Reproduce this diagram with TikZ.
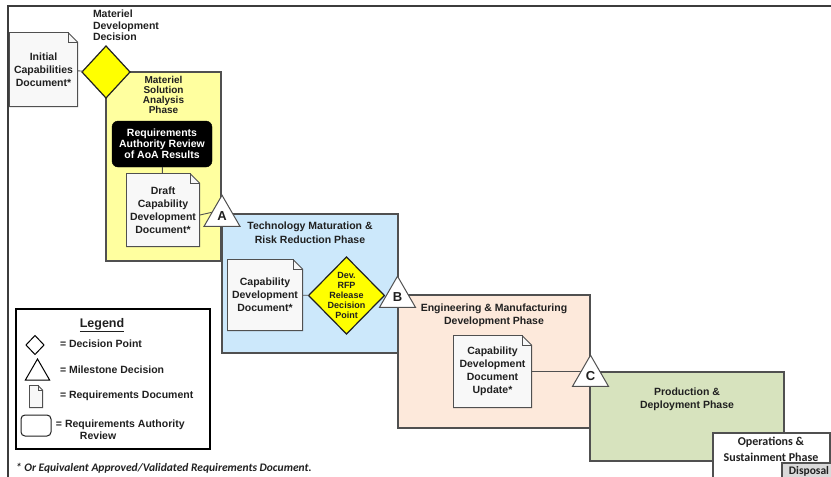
\documentclass[tikz,border=0pt]{standalone}
\usepackage{fontspec}
\setmainfont{Liberation Sans}
\newfontfamily\calfont{Carlito}
\usetikzlibrary{shapes.geometric,positioning}
\definecolor{msafill}{HTML}{FFFF9F}
\definecolor{tmrrfill}{HTML}{CCE8FB}
\definecolor{emdfill}{HTML}{FDE9DB}
\definecolor{pdfill}{HTML}{D7E3BE}
\definecolor{decfill}{HTML}{FFFF00}
\definecolor{edgegray}{HTML}{505050}
\definecolor{framegray}{HTML}{3C3C3C}
\definecolor{txtgray}{HTML}{202020}
\definecolor{docfill}{HTML}{F8F8F8}
\definecolor{dispfill}{HTML}{D9D9D9}

\begin{document}
\begin{tikzpicture}[x=1pt, y=-1pt,
	every node/.style={inner sep=0pt, outer sep=0pt, text=txtgray, font=\bfseries\fontsize{10.5}{13}\selectfont},
	phase/.style={draw=edgegray, line width=1.2pt, anchor=north west},
	title/.style={align=center},
	doc/.style={align=center, path picture={
		\path[fill=docfill, draw=edgegray, line width=0.9pt]
			([shift={(0.45pt,-0.45pt)}]path picture bounding box.north west)
			-- ([shift={(-#1,-0.45pt)}]path picture bounding box.north east)
			-- ([shift={(-0.45pt,-#1)}]path picture bounding box.north east)
			-- ([shift={(-0.45pt,0.45pt)}]path picture bounding box.south east)
			-- ([shift={(0.45pt,0.45pt)}]path picture bounding box.south west) -- cycle;
		\path[draw=edgegray, line width=0.9pt]
			([xshift=-#1]path picture bounding box.north east)
			-- ([shift={(-#1,-#1)}]path picture bounding box.north east)
			-- ([yshift=-#1]path picture bounding box.north east);}},
	doc/.default=10pt,
	decision/.style={diamond, draw=txtgray, line width=1.2pt, fill=decfill},
	milestone/.style={regular polygon, regular polygon sides=3, minimum size=41.6pt, draw=edgegray, line width=1pt, fill=white, font=\bfseries\fontsize{13}{15}\selectfont},
	review/.style={rectangle, rounded corners=6pt, draw=black, fill=black, text=white, align=center},
	link/.style={draw=edgegray, line width=0.9pt},
	legendtext/.style={anchor=west, align=left, font=\bfseries\fontsize{10.5}{12}\selectfont}]

	\useasboundingbox (0,0) rectangle (831,477);
	\clip (0,0) rectangle (831,477);
	\draw[framegray, line width=1.8pt] (8,477) -- (8,6) -- (831,6);

	% phases
	\node[phase, fill=msafill, minimum width=115, minimum height=189] (msa) at (106,72) {};
	\node[phase, fill=tmrrfill, minimum width=176, minimum height=139] (tmrr) at (222,214) {};
	\node[phase, fill=emdfill, minimum width=192, minimum height=133] (emd) at (398,295) {};
	\node[phase, fill=pdfill, minimum width=194, minimum height=89] (pd) at (590,372) {};
	\node[phase, fill=white, minimum width=117, minimum height=50] (os) at (713,433) {};
	\node[phase, fill=dispfill, minimum width=54, minimum height=20] (disp) at (782,463) {};

	\node[title, below=4pt of msa.north, font=\bfseries\fontsize{10}{10}\selectfont] (msatitle) {Materiel\\Solution\\Analysis\\Phase};
	\node[title, below=8pt of tmrr.north, font=\bfseries\fontsize{10.5}{14}\selectfont] (tmrrtitle) {Technology Maturation \&\\Risk Reduction Phase};
	\node[title, below=9pt of emd.north] (emdtitle) {Engineering \& Manufacturing\\Development Phase};
	\node[title, below=16pt of pd.north] (pdtitle) {Production \&\\Deployment Phase};
	\node[title, font=\calfont\bfseries\fontsize{12}{16}\selectfont] (ostitle) at (771,449) {Operations \&\\Sustainment Phase};
	\node[font=\calfont\bfseries\fontsize{11.5}{13}\selectfont] (disptitle) at (809,471) {Disposal};

	% documents and decisions
	\node[doc, minimum width=69, minimum height=75] (icd) at (43.5,69.5) {Initial\\Capabilities\\Document*};
	\node[decision, minimum width=48, minimum height=52] (mdd) at (106,72) {};
	\node[anchor=north west, align=left, font=\bfseries\fontsize{10.5}{11.5}\selectfont] (mddlabel) at (93,10) {Materiel\\Development\\Decision};
	\node[review, minimum width=100, minimum height=46, font=\bfseries\fontsize{10.5}{11}\selectfont] (rar) at (162,144) {Requirements\\Authority Review\\of AoA Results};
	\node[doc, minimum width=74, minimum height=74] (draft) at (163,210) {Draft\\Capability\\Development\\Document*};
	\node[doc, minimum width=76, minimum height=72] (cdd) at (265,295) {Capability\\Development\\Document*};
	\node[decision, inner sep=-2pt, minimum width=73, minimum height=77, align=center, font=\bfseries\fontsize{9}{10}\selectfont] (rfp) at (346.5,295.5) {Dev.\\RFP\\Release\\Decision\\Point};
	\node[doc, minimum width=79, minimum height=73] (cddu) at (492.5,371.5) {Capability\\Development\\Document\\Update*};

	\coordinate (posA) at (222,216);
	\coordinate (posB) at (397.5,297);
	\coordinate (posC) at (590.5,376);

	\draw[link] (icd) -- (mdd)
		(rar) -- (draft)
		(draft.east |- 0,215) -- (draft.east -| posA)
		(cdd) -- (rfp)
		(cddu.east) -- (cddu.east -| posC);

	\node[milestone] (msA) at (posA) {A};
	\node[milestone] (msB) at (posB) {B};
	\node[milestone] (msC) at (posC) {C};

	% legend
	\node[draw=black, line width=1.4pt, anchor=north west, minimum width=194, minimum height=140] (legend) at (16,309) {};
	\node[font=\bfseries\fontsize{12.5}{14}\selectfont] (legendtitle) at (102,325) {\underline{Legend}};
	\node[diamond, draw=black, line width=1pt, minimum width=18, minimum height=19] (lgdec) at (35,345) {};
	\node[regular polygon, regular polygon sides=3, draw=black, line width=1pt, minimum size=28] (lgms) at (37.5,373) {};
	\node[doc=5pt, minimum width=14, minimum height=23] (lgdoc) at (36,396.5) {};
	\node[rectangle, rounded corners=4pt, draw=txtgray, line width=1pt, minimum width=30, minimum height=21] (lgrev) at (36,425.5) {};
	\node[legendtext] (lgdect) at (60,344) {= Decision Point};
	\node[legendtext] (lgmst) at (60,370) {= Milestone Decision};
	\node[legendtext] (lgdoct) at (60,396) {= Requirements Document};
	\node[legendtext] (lgrevt) at (56,430) {= Requirements Authority\\\hspace*{24pt}Review};

	\node[anchor=west, font=\calfont\bfseries\itshape\fontsize{11.5}{13}\selectfont] (note) at (16,468) {* Or Equivalent Approved/Validated Requirements Document.};
\end{tikzpicture}
\end{document}
